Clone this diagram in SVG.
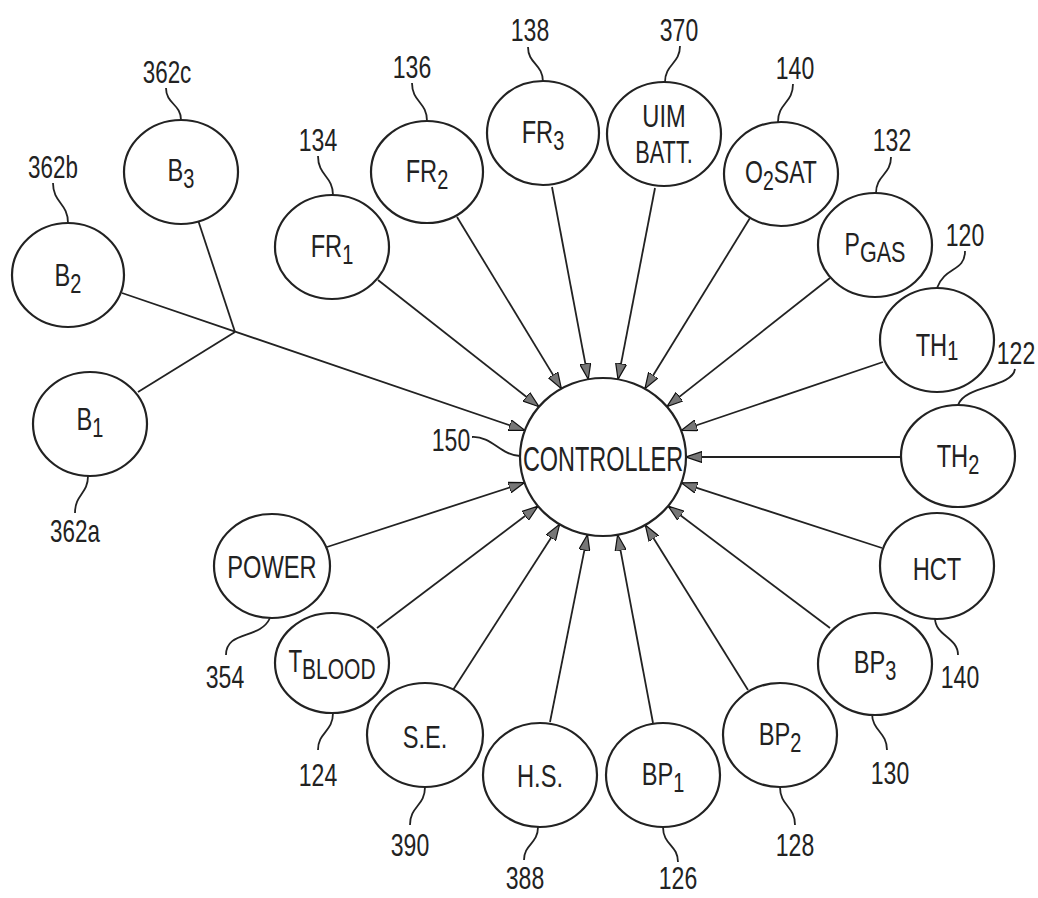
<svg xmlns="http://www.w3.org/2000/svg" width="1038" height="898" viewBox="0 0 1038 898">
<style>
.n ellipse{fill:#fff;stroke:#222;stroke-width:2.2}
text{font-family:"Liberation Sans",Arial,sans-serif;font-size:32px;fill:#222;text-anchor:middle}
.sub{font-size:27px}
.lbl{font-size:32px}
.ld{fill:none;stroke:#222;stroke-width:1.8}
.c line{stroke:#222;stroke-width:1.8}
.c .a{marker-end:url(#ah)}
</style>
<defs>
<marker id="ah" viewBox="0 0 16 12" refX="16" refY="6" markerWidth="16" markerHeight="12" markerUnits="userSpaceOnUse" orient="auto">
<path d="M0,0.5 L16,6 L0,11.5 Z" fill="#777" stroke="#111" stroke-width="1.2"/>
</marker>
</defs>
<rect width="1038" height="898" fill="#fff"/>

<g id="connectors" class="c">
<line class="a" x1="122" y1="293" x2="524.8" y2="430.4"/>
<line x1="198" y1="220" x2="235" y2="332"/>
<line x1="138" y1="392" x2="235" y2="332"/>
<line class="a" x1="378" y1="280" x2="539" y2="406.7"/>
<line class="a" x1="457" y1="217" x2="561.4" y2="388.6"/>
<line class="a" x1="552" y1="187" x2="588.3" y2="379.3"/>
<line class="a" x1="655" y1="188" x2="618" y2="379.3"/>
<line class="a" x1="750" y1="218" x2="644.9" y2="388.8"/>
<line class="a" x1="830" y1="278" x2="666.9" y2="406.6"/>
<line class="a" x1="883" y1="362" x2="681.2" y2="430.5"/>
<line class="a" x1="902" y1="457" x2="686" y2="457"/>
<line class="a" x1="882" y1="548" x2="681.4" y2="482.9"/>
<line class="a" x1="830" y1="628" x2="668.1" y2="506"/>
<line class="a" x1="748" y1="690" x2="645.3" y2="525"/>
<line class="a" x1="653" y1="723" x2="617.6" y2="534.8"/>
<line class="a" x1="550" y1="722" x2="587.5" y2="534.6"/>
<line class="a" x1="453" y1="690" x2="559.6" y2="524.4"/>
<line class="a" x1="377" y1="628" x2="538" y2="506.2"/>
<line class="a" x1="327" y1="547" x2="524.5" y2="482.6"/>
</g>

<g id="leaders">
<path class="ld" d="M181,120 C181,104 166,104 166,88"/>
<path class="ld" d="M68,223 C68,203 53,203 53,183"/>
<path class="ld" d="M88,476 C88,494 75,494 75,513"/>
<path class="ld" d="M333,195 C333,176 318,176 318,156"/>
<path class="ld" d="M427,121 C427,102 412,102 412,83"/>
<path class="ld" d="M543,82 C543,64 528,64 528,47"/>
<path class="ld" d="M665,82 C665,64 680,64 680,46"/>
<path class="ld" d="M778,122 C778,103 793,103 793,84"/>
<path class="ld" d="M876,193 C876,175 891,175 891,157"/>
<path class="ld" d="M937,288 C945,266 965,272 965,251"/>
<path class="ld" d="M958,405 C965,385 1012,388 1015,369"/>
<path class="ld" d="M472,437 C492,436 500,455 520,456"/>
<path class="ld" d="M935,618 C935,636 958,637 958,655"/>
<path class="ld" d="M872,713 C872,731 887,732 887,750"/>
<path class="ld" d="M780,787 C780,806 795,806 795,825"/>
<path class="ld" d="M663,827 C663,845 678,845 678,862"/>
<path class="ld" d="M538,827 C538,844 524,844 524,860"/>
<path class="ld" d="M425,787 C425,806 410,806 410,825"/>
<path class="ld" d="M333,713 C333,732 318,732 318,750"/>
<path class="ld" d="M270,618 C260,640 226,630 226,655"/>
</g>

<g id="controller" class="n">
<ellipse cx="603" cy="457" rx="83" ry="79"/>
<text transform="translate(603,471) scale(0.67 1)" style="font-size:35px">CONTROLLER</text>
<text class="lbl" transform="translate(451,451) scale(0.72 1)">150</text>
</g>

<g id="b3" class="n"><ellipse cx="181" cy="172" rx="57" ry="52"/>
<text transform="translate(181,181) scale(0.74 1)">B<tspan class="sub" dy="7">3</tspan></text>
<text class="lbl" transform="translate(167,83) scale(0.7 1)">362c</text></g>
<g id="b2" class="n"><ellipse cx="68" cy="275" rx="56" ry="52"/>
<text transform="translate(68,286) scale(0.74 1)">B<tspan class="sub" dy="7">2</tspan></text>
<text class="lbl" transform="translate(53,178) scale(0.7 1)">362b</text></g>
<g id="b1" class="n"><ellipse cx="90" cy="424" rx="57" ry="52"/>
<text transform="translate(90,430) scale(0.74 1)">B<tspan class="sub" dy="7">1</tspan></text>
<text class="lbl" transform="translate(75,542) scale(0.7 1)">362a</text></g>

<g id="fr1" class="n"><ellipse cx="332" cy="247" rx="57" ry="52"/>
<text transform="translate(332,257) scale(0.74 1)">FR<tspan class="sub" dy="7">1</tspan></text>
<text class="lbl" transform="translate(318,151) scale(0.72 1)">134</text></g>
<g id="fr2" class="n"><ellipse cx="427" cy="172" rx="56" ry="51"/>
<text transform="translate(427,182) scale(0.74 1)">FR<tspan class="sub" dy="7">2</tspan></text>
<text class="lbl" transform="translate(412,78) scale(0.72 1)">136</text></g>
<g id="fr3" class="n"><ellipse cx="543" cy="133" rx="56" ry="52"/>
<text transform="translate(543,143) scale(0.74 1)">FR<tspan class="sub" dy="7">3</tspan></text>
<text class="lbl" transform="translate(530,41) scale(0.72 1)">138</text></g>
<g id="uim" class="n"><ellipse cx="664" cy="134" rx="57" ry="52"/>
<text transform="translate(664,127) scale(0.74 1)">UIM</text>
<text transform="translate(664,163) scale(0.68 1)">BATT.</text>
<text class="lbl" transform="translate(679,41) scale(0.72 1)">370</text></g>
<g id="o2sat" class="n"><ellipse cx="781" cy="174" rx="57" ry="52"/>
<text transform="translate(781,183) scale(0.72 1)">O<tspan class="sub" dy="7">2</tspan><tspan dy="-7">SAT</tspan></text>
<text class="lbl" transform="translate(795,79) scale(0.72 1)">140</text></g>
<g id="pgas" class="n"><ellipse cx="875" cy="245" rx="57" ry="52"/>
<text transform="translate(875,255) scale(0.72 1)">P<tspan class="sub" dy="7" style="font-size:30px">GAS</tspan></text>
<text class="lbl" transform="translate(892,151) scale(0.72 1)">132</text></g>
<g id="th1" class="n"><ellipse cx="937" cy="340" rx="57" ry="52"/>
<text transform="translate(937,356) scale(0.74 1)">TH<tspan class="sub" dy="4">1</tspan></text>
<text class="lbl" transform="translate(965,246) scale(0.72 1)">120</text></g>
<g id="th2" class="n"><ellipse cx="958" cy="456" rx="57" ry="51"/>
<text transform="translate(958,467) scale(0.74 1)">TH<tspan class="sub" dy="7">2</tspan></text>
<text class="lbl" transform="translate(1016,364) scale(0.72 1)">122</text></g>
<g id="hct" class="n"><ellipse cx="937" cy="566" rx="57" ry="53"/>
<text transform="translate(937,580) scale(0.74 1)">HCT</text>
<text class="lbl" transform="translate(960,688) scale(0.72 1)">140</text></g>
<g id="bp3" class="n"><ellipse cx="875" cy="664" rx="57" ry="51"/>
<text transform="translate(875,673) scale(0.74 1)">BP<tspan class="sub" dy="7">3</tspan></text>
<text class="lbl" transform="translate(890,784) scale(0.72 1)">130</text></g>
<g id="bp2" class="n"><ellipse cx="780" cy="735" rx="57" ry="52"/>
<text transform="translate(780,745) scale(0.74 1)">BP<tspan class="sub" dy="7">2</tspan></text>
<text class="lbl" transform="translate(795,856) scale(0.72 1)">128</text></g>
<g id="bp1" class="n"><ellipse cx="663" cy="775" rx="57" ry="52"/>
<text transform="translate(663,785) scale(0.74 1)">BP<tspan class="sub" dy="7">1</tspan></text>
<text class="lbl" transform="translate(678,889) scale(0.72 1)">126</text></g>
<g id="hs" class="n"><ellipse cx="540" cy="775" rx="57" ry="52"/>
<text transform="translate(540,787) scale(0.74 1)">H.S.</text>
<text class="lbl" transform="translate(525,889) scale(0.72 1)">388</text></g>
<g id="se" class="n"><ellipse cx="425" cy="735" rx="58" ry="52"/>
<text transform="translate(425,748) scale(0.74 1)">S.E.</text>
<text class="lbl" transform="translate(410,856) scale(0.72 1)">390</text></g>
<g id="tblood" class="n"><ellipse cx="332" cy="663" rx="57" ry="50"/>
<text transform="translate(332,672) scale(0.7 1)">T<tspan class="sub" dy="7" style="font-size:30px">BLOOD</tspan></text>
<text class="lbl" transform="translate(318,786) scale(0.72 1)">124</text></g>
<g id="power" class="n"><ellipse cx="272" cy="566" rx="58" ry="52"/>
<text transform="translate(272,578) scale(0.74 1)">POWER</text>
<text class="lbl" transform="translate(225,688) scale(0.72 1)">354</text></g>
</svg>
